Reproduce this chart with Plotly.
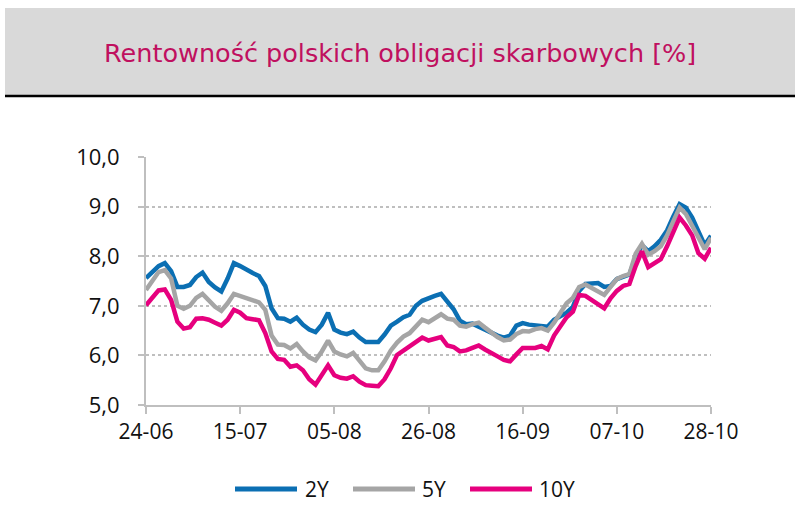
import pandas as pd
import plotly.graph_objects as go

dates = [d.strftime("%d-%m") for d in pd.bdate_range("2022-06-24", "2022-10-28")]

y2 = [7.56, 7.68, 7.80, 7.86, 7.70, 7.38, 7.38, 7.42, 7.58, 7.67,
      7.48, 7.37, 7.29, 7.55, 7.86, 7.80, 7.72, 7.66, 7.60, 7.40,
      6.95, 6.75, 6.74, 6.68, 6.76, 6.62, 6.52, 6.47, 6.62, 6.86,
      6.52, 6.46, 6.43, 6.48, 6.36, 6.27, 6.27, 6.27, 6.42, 6.60,
      6.68, 6.77, 6.82, 7.00, 7.10, 7.16, 7.20, 7.24, 7.10, 6.93,
      6.70, 6.63, 6.64, 6.58, 6.50, 6.44, 6.40, 6.36, 6.40, 6.60,
      6.65, 6.62, 6.61, 6.58, 6.58, 6.72, 6.79, 6.86, 6.98, 7.30,
      7.44, 7.44, 7.46, 7.38, 7.40, 7.54, 7.59, 7.63, 7.98, 8.22,
      8.10, 8.20, 8.33, 8.52, 8.80, 9.05, 8.98, 8.78, 8.50, 8.22,
      8.41]

y5 = [7.32, 7.50, 7.68, 7.72, 7.55, 7.00, 6.94, 7.00, 7.16, 7.24,
      7.10, 6.98, 6.90, 7.05, 7.24, 7.20, 7.14, 7.10, 7.07, 6.92,
      6.40, 6.22, 6.21, 6.14, 6.23, 6.08, 5.96, 5.90, 6.08, 6.30,
      6.08, 6.02, 5.98, 6.05, 5.90, 5.74, 5.70, 5.70, 5.88, 6.10,
      6.26, 6.38, 6.45, 6.60, 6.72, 6.67, 6.75, 6.83, 6.74, 6.72,
      6.60, 6.58, 6.63, 6.66, 6.56, 6.45, 6.37, 6.30, 6.32, 6.43,
      6.49, 6.48, 6.53, 6.55, 6.50, 6.66, 6.85, 7.05, 7.16, 7.38,
      7.43, 7.36, 7.30, 7.22, 7.38, 7.54, 7.60, 7.64, 8.05, 8.25,
      8.03, 8.10, 8.20, 8.42, 8.70, 8.98, 8.85, 8.62, 8.35, 8.14,
      8.37]

y10 = [7.01, 7.16, 7.31, 7.33, 7.12, 6.68, 6.54, 6.57, 6.74, 6.75,
       6.72, 6.66, 6.60, 6.72, 6.92, 6.86, 6.75, 6.73, 6.71, 6.45,
       6.08, 5.93, 5.91, 5.77, 5.80, 5.70, 5.52, 5.41, 5.62, 5.80,
       5.60, 5.55, 5.53, 5.58, 5.47, 5.40, 5.39, 5.38, 5.52, 5.74,
       6.01, 6.10, 6.18, 6.28, 6.36, 6.30, 6.33, 6.37, 6.20, 6.17,
       6.08, 6.10, 6.15, 6.20, 6.12, 6.04, 5.98, 5.91, 5.88, 6.02,
       6.15, 6.15, 6.15, 6.19, 6.12, 6.40, 6.60, 6.77, 6.88, 7.22,
       7.20, 7.11, 7.03, 6.95, 7.15, 7.30, 7.40, 7.44, 7.80, 8.10,
       7.78, 7.85, 7.94, 8.20, 8.50, 8.78, 8.62, 8.42, 8.06, 7.95,
       8.17]

tick_labels = ["24-06", "15-07", "05-08", "26-08", "16-09", "07-10", "28-10"]
y_ticks = [5, 6, 7, 8, 9, 10]
series_names = ["2Y", "5Y", "10Y"]
colors = ["#0b6fb3", "#a5a5a5", "#e6007e"]
TITLE = "Rentowność polskich obligacji skarbowych [%]"

W, H = 800, 507
L, R, T, B = 146, 800 - 711, 157, 507 - 405
pw, ph = W - L - R, H - T - B

def px(x):
    return (x - L) / pw

def py(y):
    return (H - B - y) / ph

fig = go.Figure()
for name, ys, c in zip(series_names, [y2, y5, y10], colors):
    fig.add_trace(go.Scatter(x=dates, y=ys, mode="lines", name=name,
                             line=dict(color=c, width=4.5), showlegend=False))

fig.update_layout(
    width=W, height=H,
    margin=dict(l=L, r=R, t=T, b=B),
    paper_bgcolor="white", plot_bgcolor="white",
    font=dict(family="Open Sans", color="black"),
    xaxis=dict(type="category", range=[0, len(dates) - 1],
               tickmode="array", tickvals=tick_labels, ticktext=tick_labels,
               showgrid=False, showline=True, linecolor="#bfbfbf", linewidth=2,
               ticks="outside", ticklen=7, tickwidth=2, tickcolor="#bfbfbf",
               tickfont=dict(size=21, family="Open Sans", color="#111"), zeroline=False),
    yaxis=dict(range=[5, 10], tickvals=y_ticks,
               ticktext=[f"{v:.1f}".replace(".", ",") for v in y_ticks],
               showgrid=True, gridcolor="#bfbfbf", griddash="dot", gridwidth=1.5,
               showline=True, linecolor="#bfbfbf", linewidth=2,
               ticks="outside", ticklen=6, tickwidth=2, tickcolor="#bfbfbf",
               ticklabelstandoff=14,
               tickfont=dict(size=22, family="Open Sans", color="#111"), zeroline=False),
)

# title box
fig.add_shape(type="rect", xref="paper", yref="paper",
              x0=px(5), x1=px(795), y0=py(96), y1=py(8),
              fillcolor="#d9d9d9", line=dict(width=0), layer="below")
fig.add_shape(type="line", xref="paper", yref="paper",
              x0=px(5), x1=px(795), y0=py(96), y1=py(96),
              line=dict(color="black", width=2.5))
fig.add_annotation(text=TITLE, xref="paper", yref="paper", x=px(400), y=py(53),
                   showarrow=False, xanchor="center", yanchor="middle",
                   font=dict(size=25.5, family="DejaVu Sans", color="#c0105f"))

# legend
leg = [(235, 297, 303), (353, 415, 420), (470, 532, 537)]
for (x0, x1, xt), name, c in zip(leg, series_names, colors):
    fig.add_shape(type="line", xref="paper", yref="paper",
                  x0=px(x0), x1=px(x1), y0=py(489), y1=py(489),
                  line=dict(color=c, width=5))
    fig.add_annotation(text=name, xref="paper", yref="paper", x=px(xt), y=py(489),
                       showarrow=False, xanchor="left", yanchor="middle",
                       font=dict(size=21, family="Open Sans", color="#111"))

fig.write_html("out.html")
